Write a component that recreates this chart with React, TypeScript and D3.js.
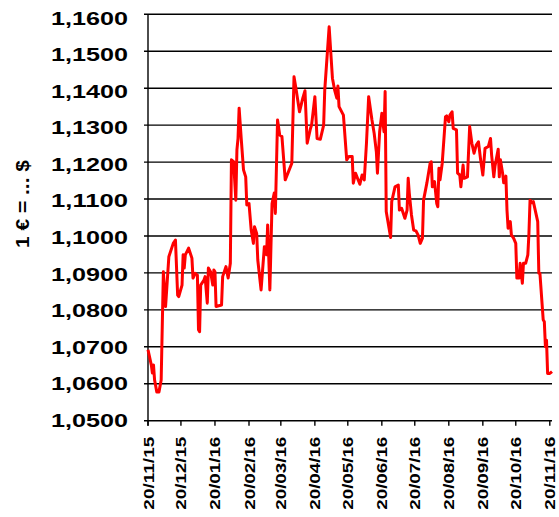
import React from "react";
import * as d3 from "d3";

const dates: string[] = [
  "2015-11-20","2015-11-23","2015-11-24","2015-11-25","2015-11-26","2015-11-28","2015-11-30",
  "2015-12-02","2015-12-04","2015-12-06","2015-12-09","2015-12-13","2015-12-15","2015-12-17","2015-12-18",
  "2015-12-21","2015-12-22","2015-12-23","2015-12-24","2015-12-27","2015-12-30","2015-12-31",
  "2016-01-02","2016-01-04","2016-01-05","2016-01-06","2016-01-07","2016-01-10","2016-01-11","2016-01-13",
  "2016-01-14","2016-01-16","2016-01-18","2016-01-19","2016-01-20","2016-01-21","2016-01-26","2016-01-27","2016-01-30",
  "2016-02-01","2016-02-03","2016-02-04","2016-02-06","2016-02-08","2016-02-09","2016-02-10","2016-02-11","2016-02-13",
  "2016-02-15","2016-02-17","2016-02-18","2016-02-20","2016-02-22","2016-02-24","2016-02-25","2016-02-27","2016-02-28",
  "2016-03-02","2016-03-05","2016-03-07","2016-03-08","2016-03-10","2016-03-12","2016-03-14","2016-03-15","2016-03-17",
  "2016-03-19","2016-03-21","2016-03-24","2016-03-27","2016-03-30",
  "2016-04-01","2016-04-03","2016-04-06","2016-04-09","2016-04-11","2016-04-13","2016-04-16","2016-04-17","2016-04-20",
  "2016-04-22","2016-04-25","2016-04-28","2016-04-29",
  "2016-05-03","2016-05-06","2016-05-08","2016-05-10","2016-05-11","2016-05-12","2016-05-16","2016-05-19","2016-05-21",
  "2016-05-24","2016-05-25","2016-05-27","2016-05-31",
  "2016-06-02","2016-06-04","2016-06-06","2016-06-08","2016-06-11","2016-06-13","2016-06-15","2016-06-16","2016-06-18",
  "2016-06-20","2016-06-22","2016-06-23","2016-06-24","2016-06-28","2016-06-29",
  "2016-07-02","2016-07-05","2016-07-06","2016-07-08","2016-07-11","2016-07-13","2016-07-14","2016-07-15","2016-07-17",
  "2016-07-19","2016-07-21","2016-07-23","2016-07-25","2016-07-27","2016-07-28","2016-07-31",
  "2016-08-03","2016-08-04","2016-08-05","2016-08-07","2016-08-09","2016-08-10","2016-08-11","2016-08-12","2016-08-14",
  "2016-08-17","2016-08-18","2016-08-20","2016-08-21","2016-08-23","2016-08-24","2016-08-27","2016-08-28","2016-08-30","2016-08-31",
  "2016-09-02","2016-09-03","2016-09-06","2016-09-08","2016-09-10","2016-09-12","2016-09-14","2016-09-16","2016-09-18",
  "2016-09-20","2016-09-22","2016-09-25","2016-09-27","2016-09-28","2016-09-30",
  "2016-10-01","2016-10-04","2016-10-05","2016-10-06","2016-10-08","2016-10-09","2016-10-11","2016-10-12","2016-10-13",
  "2016-10-15","2016-10-16","2016-10-18","2016-10-20","2016-10-21","2016-10-23","2016-10-24","2016-10-26","2016-10-27",
  "2016-10-29","2016-10-31",
  "2016-11-01","2016-11-02","2016-11-04","2016-11-05","2016-11-07","2016-11-09","2016-11-10","2016-11-11","2016-11-14",
  "2016-11-15","2016-11-16","2016-11-17","2016-11-18","2016-11-20","2016-11-22"
];

const rates: number[] = [
  1.0692,1.0651,1.0629,1.0651,1.0610,1.0578,1.0578,
  1.0610,1.0903,1.0809,1.0944,1.0980,1.0989,1.0840,1.0836,
  1.0867,1.0949,1.0913,1.0949,1.0967,1.0940,1.0886,
  1.0899,1.0894,1.0746,1.0741,1.0867,1.0881,1.0890,1.0818,
  1.0913,1.0903,1.0867,1.0908,1.0903,1.0809,1.0813,1.0890,1.0917,
  1.0886,1.0926,1.1206,1.1201,1.1097,1.1233,1.1264,1.1346,1.1260,
  1.1179,1.1160,1.1084,1.1088,1.1016,1.0980,1.1025,1.1007,1.0935,
  1.0854,1.0971,1.0949,1.1030,1.0854,1.1088,1.1116,1.1061,1.1314,
  1.1273,1.1269,1.1152,1.1174,1.1197,
  1.1431,1.1395,1.1336,1.1373,1.1393,1.1251,1.1291,1.1300,1.1377,
  1.1264,1.1262,1.1300,1.1395,
  1.1566,1.1427,1.1395,1.1373,1.1406,1.1350,1.1327,1.1206,1.1215,
  1.1215,1.1143,1.1170,1.1140,
  1.1165,1.1152,1.1251,1.1377,1.1314,1.1278,1.1228,1.1170,1.1282,
  1.1332,1.1282,1.1391,1.1066,1.0996,1.1093,
  1.1133,1.1138,1.1070,1.1075,1.1048,1.1070,1.1156,1.1116,1.1057,
  1.1016,1.1014,1.1003,1.0980,1.0994,1.1097,1.1143,
  1.1197,1.1201,1.1133,1.1147,1.1088,1.1079,1.1183,1.1152,1.1197,
  1.1323,1.1325,1.1309,1.1327,1.1336,1.1291,1.1287,1.1170,1.1165,1.1133,
  1.1192,1.1156,1.1160,1.1296,1.1251,1.1224,1.1246,1.1255,1.1206,
  1.1165,1.1237,1.1242,1.1264,1.1219,1.1160,
  1.1188,1.1235,1.1160,1.1206,1.1170,1.1144,1.1162,1.1070,1.1021,
  1.1039,1.1003,1.0994,1.0980,1.0886,1.0886,1.0926,1.0872,1.0926,
  1.0926,1.0949,
  1.1007,1.1097,1.1090,1.1093,1.1066,1.1039,1.0899,1.0899,1.0773,
  1.0768,1.0700,1.0718,1.0628,1.0628,1.0633
];

const yTicks: number[] = [1.05,1.06,1.07,1.08,1.09,1.10,1.11,1.12,1.13,1.14,1.15,1.16];
const xTickDates: string[] = [
  "2015-11-20","2015-12-20","2016-01-20","2016-02-20","2016-03-20","2016-04-20",
  "2016-05-20","2016-06-20","2016-07-20","2016-08-20","2016-09-20","2016-10-20","2016-11-20"
];
const yTitle = "1 € = ... $";

const parse = d3.timeParse("%Y-%m-%d");
const fmtX = d3.timeFormat("%d/%m/%y");
const fmtY = (v: number) => v.toFixed(4).replace(".", ",");

export default function App() {
  const left = 148, right = 552, top = 14.3, bottom = 420.7;
  const x = d3.scaleTime()
    .domain([parse("2015-11-20") as Date, parse("2016-11-22") as Date])
    .range([left, right]);
  const y = d3.scaleLinear().domain([1.05, 1.16]).range([bottom, top]);
  const pts = dates.map((d, i) => ({ d: parse(d) as Date, v: rates[i] }));
  const line = d3.line<{ d: Date; v: number }>().x(p => x(p.d)).y(p => y(p.v));
  const font = "'Liberation Sans', Arial, sans-serif";

  return (
    <svg width={559} height={517} style={{ position: "absolute", left: 0, top: 0, background: "#fff" }}>
      {yTicks.map((v, i) => (
        <g key={"g" + i}>
          <line x1={left - 4} x2={right} y1={y(v)} y2={y(v)} stroke="#000" strokeWidth={1.4} />
          <text
            x={128}
            y={y(v) + 4.5 * (v - 1.05) / 0.11}
            textAnchor="end"
            dominantBaseline="central"
            fontFamily={font}
            fontWeight="bold"
            fontSize={18}
            textLength={77}
            lengthAdjust="spacingAndGlyphs"
            fill="#000"
          >{fmtY(v)}</text>
        </g>
      ))}
      <line x1={left} x2={left} y1={top} y2={bottom + 5} stroke="#000" strokeWidth={1.4} />
      {xTickDates.map((s, i) => {
        const d = parse(s) as Date;
        const xx = x(d);
        return (
          <g key={"x" + i}>
            <line x1={xx} x2={xx} y1={bottom} y2={bottom + 5} stroke="#000" strokeWidth={1.4} />
            <text
              transform={`translate(${xx},${bottom + 16}) rotate(-90)`}
              textAnchor="end"
              dominantBaseline="central"
              fontFamily={font}
              fontWeight="bold"
              fontSize={15}
              textLength={73}
              lengthAdjust="spacingAndGlyphs"
              fill="#000"
            >{fmtX(d)}</text>
          </g>
        );
      })}
      <path d={line(pts) || ""} fill="none" stroke="#ff0000" strokeWidth={3} strokeLinejoin="round" />
      <text
        transform={`translate(23,204) rotate(-90)`}
        textAnchor="middle"
        dominantBaseline="central"
        fontFamily={font}
        fontWeight="bold"
        fontSize={18}
        textLength={88}
        lengthAdjust="spacingAndGlyphs"
        fill="#000"
      >{yTitle}</text>
    </svg>
  );
}
